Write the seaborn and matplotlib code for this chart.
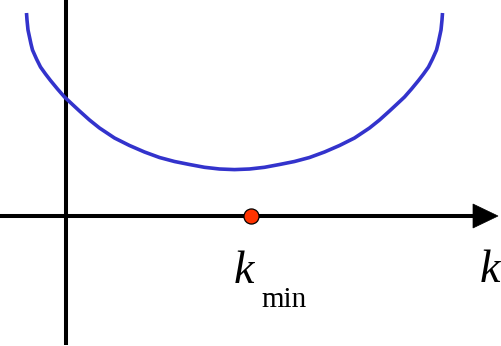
import matplotlib
matplotlib.use("Agg")
import matplotlib.pyplot as plt
from matplotlib.patches import Polygon
import pandas as pd
import seaborn as sns

# U-shaped curve k -> f(k), sampled along its trace from left end to right end
curve_k = [-0.395, -0.390, -0.380, -0.365, -0.350, -0.335, -0.295, -0.255, -0.205, -0.155,
           -0.085, -0.015, 0.065, 0.135, 0.235, 0.335, 0.485, 0.635, 0.785, 0.935,
           1.085, 1.235, 1.385, 1.535, 1.685,
           1.835, 1.985, 2.135, 2.285, 2.435, 2.585, 2.735, 2.885, 3.035, 3.135,
           3.235, 3.305, 3.385, 3.455, 3.525, 3.575, 3.625, 3.665, 3.705, 3.720,
           3.735, 3.750, 3.760, 3.765]
curve_f = [2.03, 1.96, 1.86, 1.79, 1.72, 1.66, 1.57, 1.49, 1.42, 1.355,
           1.27, 1.19, 1.115, 1.05, 0.96, 0.88, 0.78, 0.705, 0.64, 0.585,
           0.545, 0.515, 0.487, 0.47, 0.464,
           0.47, 0.487, 0.515, 0.545, 0.585, 0.64, 0.705, 0.78, 0.88, 0.96,
           1.05, 1.115, 1.19, 1.27, 1.355, 1.42, 1.49, 1.57, 1.66, 1.72,
           1.79, 1.86, 1.96, 2.03]

# marked point on the k axis
k_min = [1.85]
k_min_y = [0.0]

axis_label = "k"
point_label = "k"
point_sub = "min"

sns.set_theme(style="white")
plt.rcParams["font.family"] = ["Liberation Serif", "DejaVu Serif"]
plt.rcParams["text.color"] = "black"

fig = plt.figure(figsize=(5.02, 3.46), dpi=100)
ax = fig.add_axes([0, 0, 1, 1])
ax.set_xlim(-0.66, 4.36)
ax.set_ylim(-1.30, 2.16)
ax.axis("off")

# coordinate axes
axis_lw = 2.9
ax.plot([-0.7, 4.10], [0, 0], color="black", lw=axis_lw, solid_capstyle="butt", zorder=2)
ax.add_patch(Polygon([(4.07, 0.12), (4.07, -0.12), (4.32, 0.0)], closed=True,
                     facecolor="black", edgecolor="black", lw=0.5, zorder=2))
ax.plot([0, 0], [-1.29, 2.2], color="black", lw=axis_lw, solid_capstyle="butt", zorder=2)

df = pd.DataFrame({"k": curve_k, "f": curve_f})
sns.lineplot(data=df, x="k", y="f", sort=False, estimator=None, color="#3333CC",
             lw=2.6, ax=ax, zorder=3, solid_joinstyle="round", solid_capstyle="butt")

pts = pd.DataFrame({"k": k_min, "y": k_min_y})
sns.scatterplot(data=pts, x="k", y="y", s=118, color="#FF3300", edgecolor="black",
                linewidth=0.9, ax=ax, zorder=4)

ax.text(4.14, -0.66, axis_label, fontsize=33, fontstyle="italic", color="black",
        ha="left", va="baseline")
ax.text(1.68, -0.67, point_label, fontsize=33, fontstyle="italic", color="black",
        ha="left", va="baseline")
ax.text(1.95, -0.91, point_sub, fontsize=21, color="black", ha="left", va="baseline")

fig.savefig("out.png", dpi=100)
